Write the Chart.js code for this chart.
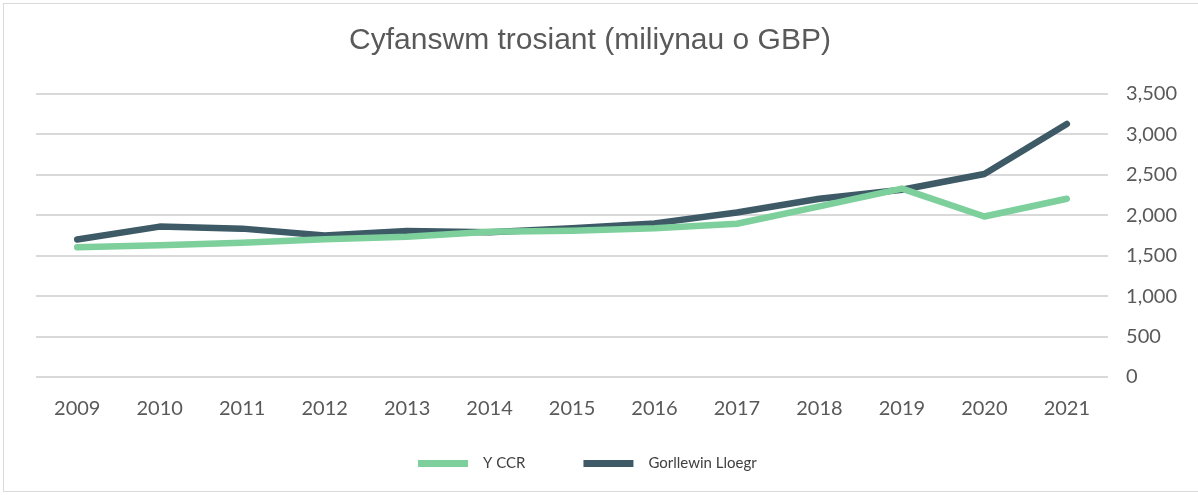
<!DOCTYPE html>
<html>
<head>
<meta charset="utf-8">
<script src="https://cdn.jsdelivr.net/npm/chart.js@4.4.1/dist/chart.umd.min.js"></script>
<style>
  html, body { margin: 0; padding: 0; background: #fff; }
  #wrap { position: relative; width: 1198px; height: 495px; overflow: hidden; }
  #frame { position: absolute; left: 3px; top: 3px; width: 1200px; height: 489px; border: 1px solid #d9d9d9; box-sizing: border-box; }
  #chart-box { position: absolute; left: 0; top: 0; width: 1198px; height: 495px; }
</style>
</head>
<body>
<div id="wrap">
  <div id="frame"></div>
  <div id="chart-box"><canvas id="turnover-chart"></canvas></div>
</div>
<script>
// years on the x axis
var years = ['2009', '2010', '2011', '2012', '2013', '2014', '2015', '2016', '2017', '2018', '2019', '2020', '2021'];

// turnover, millions GBP
var yCcr = [1605, 1630, 1660, 1705, 1735, 1795, 1810, 1840, 1895, 2110, 2330, 1985, 2205];
var gorllewinLloegr = [1700, 1860, 1835, 1750, 1805, 1790, 1840, 1900, 2035, 2205, 2315, 2510, 3130];

var seriesNames = ['Y CCR', 'Gorllewin Lloegr'];
var seriesColors = ['#7dcf9c', '#3d5a66'];

(function() {
    'use strict';

    // spacing characters, used to nudge centred text the way the original sits
    var EN = '\u2002', EM = '\u2003', THIN = '\u2009';

    var ctx = document.getElementById('turnover-chart').getContext('2d');

    function makeDataset(i, values) {
        return {
            label: seriesNames[i],
            data: values,
            borderColor: seriesColors[i],
            backgroundColor: seriesColors[i],
            borderWidth: 6.5,
            pointRadius: 0,
            tension: 0,
            borderCapStyle: 'round',
            borderJoinStyle: 'round'
        };
    }

    new Chart(ctx, {
        type: 'line',
        data: {
            labels: years,
            datasets: [makeDataset(0, yCcr), makeDataset(1, gorllewinLloegr)]
        },
        options: {
            responsive: true,
            maintainAspectRatio: false,
            animation: false,
            layout: {
                padding: { left: 36, right: 3, top: 23, bottom: 14 }
            },
            plugins: {
                title: {
                    display: true,
                    text: 'Cyfanswm trosiant (miliynau o GBP)' + EM + EN + THIN,
                    color: '#595959',
                    font: { family: 'Liberation Sans', size: 30, weight: 'normal' },
                    padding: { top: 0, bottom: 35 }
                },
                legend: {
                    position: 'bottom',
                    labels: {
                        color: '#404040',
                        font: { family: 'Lato', size: 15 },
                        boxWidth: 50,
                        boxHeight: 7,
                        padding: 13,
                        generateLabels: function(chart) {
                            var items = Chart.defaults.plugins.legend.labels.generateLabels(chart);
                            items.forEach(function(item, i) {
                                var tail = i === 0 ? EM + EM + EM + EM : EM + EM + EM + EM + EM;
                                item.text = EN + item.text + tail;
                                item.fillStyle = seriesColors[i];
                                item.strokeStyle = seriesColors[i];
                                item.lineWidth = 0;
                            });
                            return items;
                        }
                    }
                },
                tooltip: { enabled: false }
            },
            scales: {
                x: {
                    offset: true,
                    grid: { display: false },
                    border: { display: false },
                    ticks: {
                        color: '#595959',
                        font: { family: 'Lato', size: 20 },
                        padding: 12,
                        maxRotation: 0
                    },
                    afterFit: function(axis) {
                        axis.height += 10;
                    }
                },
                y: {
                    position: 'right',
                    min: 0,
                    max: 3500,
                    border: { display: false },
                    grid: {
                        color: '#d9d9d9',
                        lineWidth: 2,
                        drawTicks: false
                    },
                    ticks: {
                        stepSize: 500,
                        color: '#595959',
                        padding: 18,
                        font: { family: 'Lato', size: 20 },
                        callback: function(value) {
                            return value.toLocaleString('en-GB');
                        }
                    }
                }
            }
        }
    });
})();
</script>
</body>
</html>
